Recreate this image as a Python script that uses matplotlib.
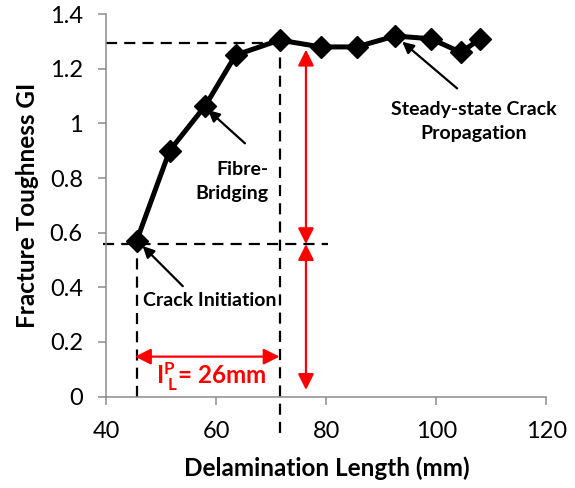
import matplotlib
matplotlib.use("Agg")
import matplotlib.pyplot as plt

plt.rcParams['font.family'] = ['Lato', 'DejaVu Sans']
plt.rcParams['mathtext.fontset'] = 'custom'
plt.rcParams['mathtext.rm'] = 'Lato'
plt.rcParams['mathtext.bf'] = 'Lato:bold'
plt.rcParams['mathtext.it'] = 'Lato:italic'

# data
delam_length = [45.5, 51.5, 58, 63.5, 71.5, 79, 85.5, 92.5, 99, 104.5, 108]
toughness = [0.57, 0.90, 1.065, 1.25, 1.305, 1.28, 1.28, 1.32, 1.31, 1.26, 1.31]
x_ticks = [40, 60, 80, 100, 120]
y_ticks = [0, 0.2, 0.4, 0.6, 0.8, 1, 1.2, 1.4]
y_tick_labels = ['0', '0.2', '0.4', '0.6', '0.8', '1', '1.2', '1.4']

g_init = 0.558
g_prop = 1.293
x_init = 45.5
x_plateau = 71.5
x_redarrow = 76.3
lp_arrow_y = 0.146

fig = plt.figure(figsize=(5.75, 4.88), dpi=100)
ax = fig.add_axes([0.185, 0.1875, 0.765, 0.7835])

grey = '#8c8c8c'
dash = (0, (5, 3.2))

# dashed guide lines
ax.plot([40, x_plateau], [g_prop, g_prop], color='black', lw=1.6, ls=dash, zorder=2)
ax.plot([39.3, 80.3], [g_init, g_init], color='black', lw=1.6, ls=dash, zorder=2, clip_on=False)
ax.plot([x_init, x_init], [0, g_init], color='black', lw=1.6, ls=dash, zorder=2)
ax.plot([x_plateau, x_plateau], [-0.135, 1.305], color='black', lw=1.6, ls=dash, zorder=2, clip_on=False)

# main series
ax.plot(delam_length, toughness, color='black', lw=3.6, marker='D', markersize=11,
        markerfacecolor='black', markeredgecolor='black', zorder=4, solid_joinstyle='round')

# red arrows
red_props = dict(arrowstyle='<|-|>', color='red', lw=1.6, mutation_scale=24,
                 shrinkA=0, shrinkB=0)
ax.annotate('', xy=(x_redarrow, 1.27), xytext=(x_redarrow, g_init), arrowprops=red_props, zorder=3)
ax.annotate('', xy=(x_redarrow, g_init), xytext=(x_redarrow, 0.024), arrowprops=red_props, zorder=3)
ax.annotate('', xy=(45.2, lp_arrow_y), xytext=(x_plateau, lp_arrow_y), arrowprops=red_props, zorder=3)
ax.text(59.0, 0.072, r'$\mathbf{I^{P}_{\ L}}$= 26mm', color='red', fontsize=17.5,
        fontweight='bold', ha='center', va='center')

# black annotations
blk_props = dict(arrowstyle='-|>', color='black', lw=1.6, mutation_scale=17,
                 shrinkA=0, shrinkB=0)
ax.text(69.4, 0.786, 'Fibre-\nBridging', ha='right', va='center', multialignment='right',
        fontsize=14, fontweight='bold', linespacing=1.5, zorder=5)
ax.annotate('', xy=(58.5, 1.049), xytext=(65.2, 0.927), arrowprops=blk_props, zorder=5)
ax.text(46.6, 0.350, 'Crack Initiation', ha='left', va='center', fontsize=14,
        fontweight='bold', zorder=5)
ax.annotate('', xy=(46.6, 0.551), xytext=(53.9, 0.404), arrowprops=blk_props, zorder=5)
ax.text(106.8, 1.007, 'Steady-state Crack\nPropagation', ha='center', va='center',
        fontsize=14, fontweight='bold', linespacing=1.5, zorder=5)
ax.annotate('', xy=(93.8, 1.299), xytext=(103.8, 1.128), arrowprops=blk_props, zorder=5)

ax.set_xlim(40, 120)
ax.set_ylim(0, 1.4)
ax.set_xticks(x_ticks)
ax.set_yticks(y_ticks)
ax.set_yticklabels(y_tick_labels)
ax.tick_params(axis='both', direction='out', length=6, width=1.1, color=grey,
               labelsize=17, labelcolor='black')
ax.tick_params(axis='y', pad=11)
ax.tick_params(axis='x', pad=12)
for s in ['top', 'right']:
    ax.spines[s].set_visible(False)
for s in ['left', 'bottom']:
    ax.spines[s].set_color(grey)
    ax.spines[s].set_linewidth(1.1)

ax.set_xlabel('Delamination Length (mm)', fontsize=17.5, fontweight='bold', labelpad=10)
ax.set_ylabel('Fracture Toughness GI', fontsize=17.5, fontweight='bold', labelpad=8)

fig.savefig('out.png', dpi=100)
